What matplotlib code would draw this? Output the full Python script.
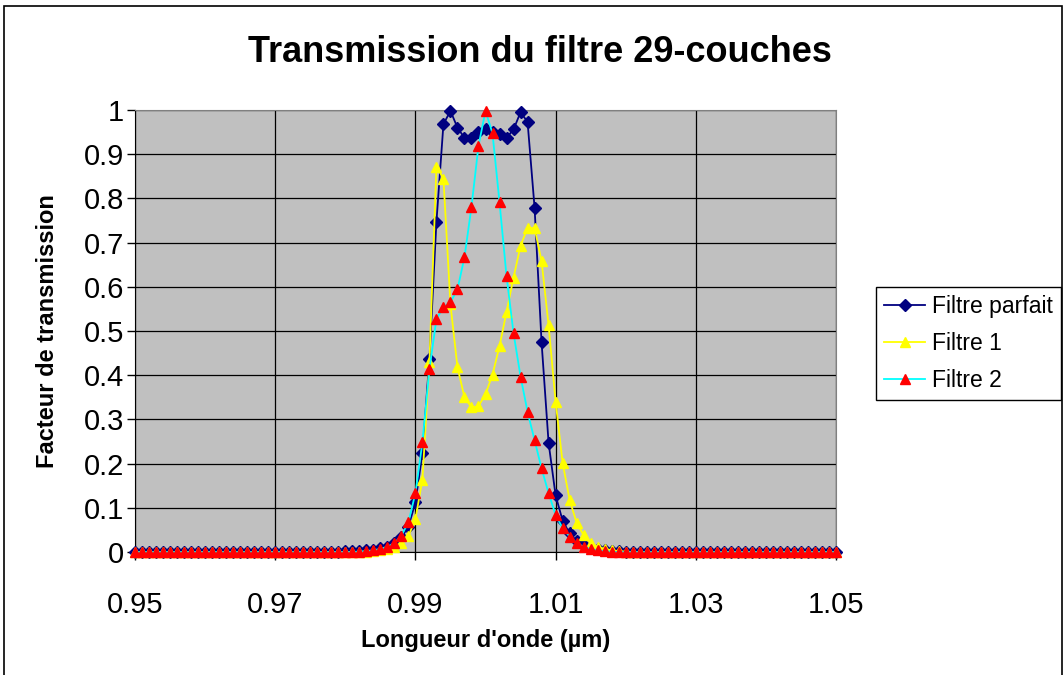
import numpy as np
import matplotlib
matplotlib.use("Agg")
import matplotlib.pyplot as plt
from matplotlib.patches import Rectangle

plt.rcParams['font.family'] = ['Liberation Sans', 'DejaVu Sans']

# Longueurs d'onde (µm), pas de 0.001
wavelength = np.round(np.linspace(0.95, 1.05, 101), 3)

filtre_parfait = [
    0, 0, 0, 0, 0, 0, 0, 0, 0, 0,
    0, 0, 0, 0, 0, 0, 0, 0, 0, 0,
    0, 0, 0, 0, 0, 0, 0, 0, 0, 0,
    0.002, 0.002, 0.003, 0.004, 0.005, 0.008, 0.012, 0.020, 0.033, 0.057,
    0.112, 0.223, 0.437, 0.747, 0.968, 0.998, 0.960, 0.937, 0.937, 0.951,
    0.957, 0.951, 0.945, 0.937, 0.956, 0.995, 0.973, 0.779, 0.474, 0.247,
    0.128, 0.071, 0.042, 0.025, 0.015, 0.010, 0.006, 0.004, 0.003, 0.002,
    0.001, 0, 0, 0, 0, 0, 0, 0, 0, 0,
    0, 0, 0, 0, 0, 0, 0, 0, 0, 0,
    0, 0, 0, 0, 0, 0, 0, 0, 0, 0,
    0,
]

filtre_1 = [
    0, 0, 0, 0, 0, 0, 0, 0, 0, 0,
    0, 0, 0, 0, 0, 0, 0, 0, 0, 0,
    0, 0, 0, 0, 0, 0, 0, 0, 0, 0,
    0, 0, 0, 0.001, 0.002, 0.004, 0.007, 0.012, 0.020, 0.036,
    0.074, 0.164, 0.430, 0.872, 0.845, 0.560, 0.418, 0.350, 0.327, 0.330,
    0.357, 0.401, 0.466, 0.543, 0.621, 0.693, 0.733, 0.733, 0.658, 0.513,
    0.340, 0.202, 0.118, 0.066, 0.038, 0.020, 0.012, 0.007, 0.004, 0.002,
    0.001, 0, 0, 0, 0, 0, 0, 0, 0, 0,
    0, 0, 0, 0, 0, 0, 0, 0, 0, 0,
    0, 0, 0, 0, 0, 0, 0, 0, 0, 0,
    0,
]

filtre_2 = [
    0, 0, 0, 0, 0, 0, 0, 0, 0, 0,
    0, 0, 0, 0, 0, 0, 0, 0, 0, 0,
    0, 0, 0, 0, 0, 0, 0, 0, 0, 0,
    0, 0, 0.001, 0.002, 0.004, 0.007, 0.012, 0.020, 0.037, 0.067,
    0.133, 0.248, 0.413, 0.527, 0.554, 0.565, 0.594, 0.667, 0.781, 0.919,
    0.998, 0.947, 0.791, 0.624, 0.495, 0.397, 0.317, 0.253, 0.189, 0.133,
    0.084, 0.054, 0.035, 0.020, 0.012, 0.007, 0.004, 0.002, 0.001, 0,
    0, 0, 0, 0, 0, 0, 0, 0, 0, 0,
    0, 0, 0, 0, 0, 0, 0, 0, 0, 0,
    0, 0, 0, 0, 0, 0, 0, 0, 0, 0,
    0,
]

x_ticks = [0.95, 0.97, 0.99, 1.01, 1.03, 1.05]
y_ticks = [0, 0.1, 0.2, 0.3, 0.4, 0.5, 0.6, 0.7, 0.8, 0.9, 1]

fig = plt.figure(figsize=(10.64, 6.75), dpi=100)
ax = fig.add_axes([135/1064, 1 - 552/675, 701/1064, 442/675])
ax.set_facecolor('#C0C0C0')

# cadre autour de la figure
fig.patches.append(Rectangle((4/1064, -0.02), 1058/1064, 1.02 - 6/675, transform=fig.transFigure,
                             fill=False, edgecolor='black', linewidth=1.2))

ax.plot(wavelength, filtre_parfait, color='#000080', marker='D', markersize=6,
        linewidth=1.3, label='Filtre parfait', clip_on=False, zorder=3)
ax.plot(wavelength, filtre_1, color='#FFFF00', marker='^', markersize=7.5,
        markerfacecolor='#FFFF00', markeredgecolor='#FFFF00',
        linewidth=1.3, label='Filtre 1', clip_on=False, zorder=4)
ax.plot(wavelength, filtre_2, color='#00FFFF', marker='^', markersize=7.5,
        markerfacecolor='#FF0000', markeredgecolor='#FF0000',
        linewidth=1.3, label='Filtre 2', clip_on=False, zorder=5)

ax.set_xlim(0.95, 1.05)
ax.set_ylim(0, 1)
ax.set_xticks(x_ticks)
ax.set_xticklabels([f"{t:g}" for t in x_ticks])
ax.set_yticks(y_ticks)
ax.set_yticklabels([f"{t:g}" for t in y_ticks])
ax.grid(True, color='black', linewidth=0.9)
ax.set_axisbelow(True)

ax.tick_params(axis='both', direction='out', length=6, width=1, labelsize=21)
ax.tick_params(axis='y', pad=2)
ax.tick_params(axis='x', pad=22)
ax.spines['top'].set_color('#808080')
ax.spines['right'].set_color('#808080')
for s in ['left', 'bottom']:
    ax.spines[s].set_color('black')

ax.set_xlabel("Longueur d'onde (µm)", fontsize=17, fontweight='bold', labelpad=7)
ax.set_ylabel("Facteur de transmission", fontsize=17, fontweight='bold', labelpad=18)
fig.text(540/1064, 1 - 52/675, "Transmission du filtre 29-couches", fontsize=26,
         fontweight='bold', ha='center', va='center')

leg = fig.legend(loc='upper left', bbox_to_anchor=(876/1064, 1 - 287/675),
                 fontsize=16.5, frameon=True, fancybox=False, framealpha=1,
                 edgecolor='black', borderaxespad=0, handlelength=1.8,
                 handletextpad=0.3, labelspacing=0.62, borderpad=0.35)
leg.get_frame().set_linewidth(1.0)

fig.savefig('out.png', dpi=100)
